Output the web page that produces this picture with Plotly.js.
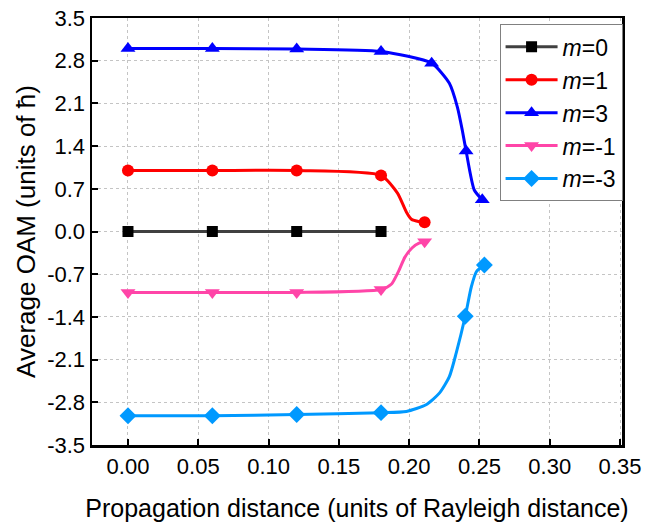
<!DOCTYPE html>
<html>
<head>
<meta charset="utf-8">
<script src="https://cdn.plot.ly/plotly-3.0.1.min.js"></script>
<style>html,body{margin:0;padding:0;background:#fff;}#chart{width:659px;height:532px;}</style>
</head>
<body>
<div id="chart"></div>
<script>
// ---- data ----
// mk = 1 where a marker is drawn, 0 for intermediate points of the smooth curve
const x_m0 = [0, 0.06, 0.12, 0.18];
const y_m0 = [0, 0, 0, 0];
const mk_m0 = [1, 1, 1, 1];
const x_m1 = [0, 0.06, 0.12, 0.18, 0.1917, 0.198, 0.2016, 0.2073, 0.211];
const y_m1 = [1.0, 1.0, 1.0, 0.92, 0.63, 0.32, 0.20, 0.16, 0.15];
const mk_m1 = [1, 1, 1, 1, 0, 0, 0, 0, 1];
const x_m3 = [0, 0.06, 0.12, 0.18, 0.216, 0.2286, 0.2343, 0.2378, 0.2405, 0.2463, 0.252];
const y_m3 = [3.0, 3.0, 2.99, 2.95, 2.76, 2.43, 2.04, 1.66, 1.32, 0.68, 0.52];
const mk_m3 = [1, 1, 1, 1, 1, 0, 0, 0, 1, 0, 1];
const x_mn1 = [0, 0.06, 0.12, 0.18, 0.1875, 0.1925, 0.197, 0.202, 0.207, 0.211];
const y_mn1 = [-1.0, -1.0, -1.0, -0.95, -0.86, -0.65, -0.42, -0.27, -0.19, -0.17];
const mk_mn1 = [1, 1, 1, 1, 0, 0, 0, 0, 0, 1];
const x_mn3 = [0, 0.06, 0.12, 0.18, 0.198, 0.212, 0.2215, 0.2286, 0.2335, 0.2399, 0.2442, 0.2478, 0.2535];
const y_mn3 = [-3.02, -3.02, -3.0, -2.97, -2.95, -2.84, -2.65, -2.38, -1.99, -1.39, -0.91, -0.66, -0.55];
const mk_mn3 = [1, 1, 1, 1, 0, 0, 0, 0, 0, 1, 0, 0, 1];

const seriesNames = ['<i>m</i>=0', '<i>m</i>=1', '<i>m</i>=3', '<i>m</i>=-1', '<i>m</i>=-3'];
const yTicks = [-3.5, -2.8, -2.1, -1.4, -0.7, 0.0, 0.7, 1.4, 2.1, 2.8, 3.5];
const xTicks = [0, 0.05, 0.10, 0.15, 0.20, 0.25, 0.30, 0.35];

const FONT = 'Liberation Sans, Arial, sans-serif';

function mkColors(flags, col) {
  return flags.map(f => f ? col : 'rgba(0,0,0,0)');
}
function trace(x, y, flags, name, lineCol, mCol, symbol, size) {
  return {
    x: x, y: y, name: name, type: 'scatter', mode: 'lines+markers',
    line: {color: lineCol, width: 3, shape: 'spline', smoothing: 0.6},
    marker: {symbol: symbol, size: size, color: mkColors(flags, mCol),
             line: {width: 0}},
    cliponaxis: false
  };
}

const data = [
  trace(x_m0, y_m0, mk_m0, seriesNames[0], '#404040', '#000000', 'square', 11),
  trace(x_m1, y_m1, mk_m1, seriesNames[1], '#ff0000', '#ff0000', 'circle', 12),
  trace(x_m3, y_m3, mk_m3, seriesNames[2], '#0000ff', '#0000ff', 'triangle-up', 13),
  trace(x_mn1, y_mn1, mk_mn1, seriesNames[3], '#ff45a8', '#ff45a8', 'triangle-down', 13),
  trace(x_mn3, y_mn3, mk_mn3, seriesNames[4], '#0099ff', '#0099ff', 'diamond', 13)
];

const layout = {
  width: 659, height: 532,
  margin: {l: 92, r: 37, t: 18, b: 87},
  paper_bgcolor: '#ffffff', plot_bgcolor: '#ffffff',
  font: {family: FONT, color: '#000', size: 20},
  showlegend: true,
  legend: {
    x: 0.769, y: 0.985, xanchor: 'left', yanchor: 'top',
    bgcolor: '#ffffff', bordercolor: '#808080', borderwidth: 1,
    font: {family: FONT, size: 23, color: '#000'},
    itemwidth: 52, tracegroupgap: 0
  },
  xaxis: {
    range: [-0.0256, 0.3514],
    tickvals: xTicks, ticktext: xTicks.map(v => v.toFixed(2)),
    ticks: 'inside', ticklen: 6, tickwidth: 2, tickcolor: '#000',
    showline: true, linecolor: '#000', linewidth: 2.5, mirror: true,
    showgrid: true, gridcolor: '#c4c4c4', gridwidth: 1, griddash: 'dot',
    zeroline: false,
    tickfont: {family: FONT, size: 22, color: '#000'},
    title: {text: 'Propagation distance (units of Rayleigh distance)',
            font: {family: FONT, size: 25, color: '#000'}, standoff: 22}
  },
  yaxis: {
    range: [-3.5, 3.5],
    tickvals: yTicks, ticktext: yTicks.map(v => v.toFixed(1)),
    ticks: 'inside', ticklen: 6, tickwidth: 2, tickcolor: '#000',
    showline: true, linecolor: '#000', linewidth: 2.5, mirror: true,
    showgrid: true, gridcolor: '#c4c4c4', gridwidth: 1, griddash: 'dot',
    zeroline: false,
    tickfont: {family: FONT, size: 22, color: '#000'},
    title: {text: 'Average OAM (units of ħ)',
            font: {family: FONT, size: 26, color: '#000'}, standoff: 4}
  }
};

Plotly.newPlot('chart', data, layout, {displayModeBar: false, staticPlot: true});
</script>
</body>
</html>
